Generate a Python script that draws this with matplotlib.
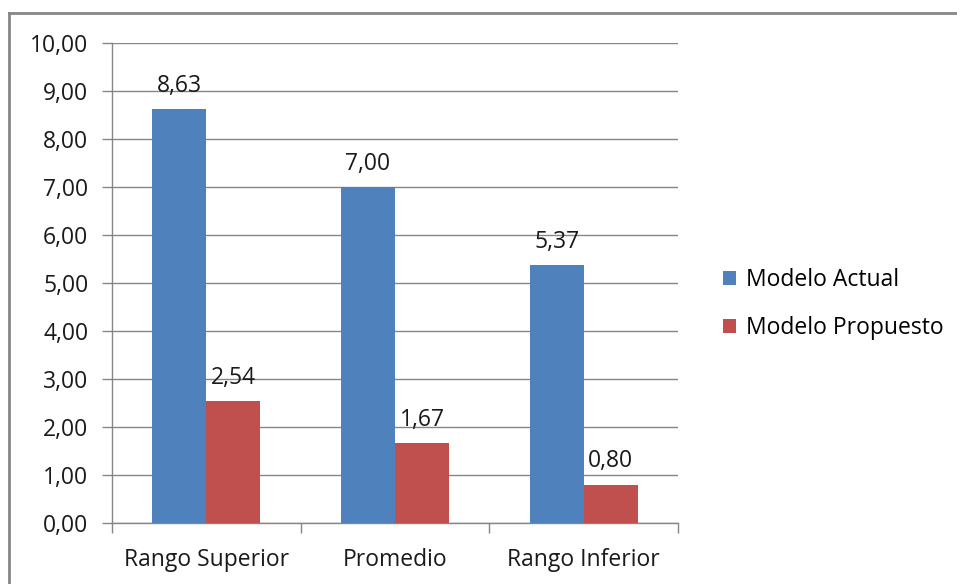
import matplotlib.pyplot as plt
from matplotlib.lines import Line2D
from matplotlib.patches import Patch
import numpy as np

categories = ["Rango Superior", "Promedio", "Rango Inferior"]
modelo_actual = [8.63, 7.00, 5.37]
modelo_propuesto = [2.54, 1.67, 0.80]
series_names = ["Modelo Actual", "Modelo Propuesto"]
yticks = [0, 1, 2, 3, 4, 5, 6, 7, 8, 9, 10]

blue = "#4F81BD"
red = "#C0504D"
grid_c = "#868686"
txt_c = "#1a1a1a"
fs = 16.5

plt.rcParams['font.family'] = ['Open Sans', 'DejaVu Sans']

fig = plt.figure(figsize=(9.57, 5.84), dpi=100)
ax = fig.add_axes([112/957, 1-523/584, (678-112)/957, (523-43)/584])

x = np.arange(len(categories))
w = 0.286
b1 = ax.bar(x - w/2, modelo_actual, w, color=blue, zorder=3)
b2 = ax.bar(x + w/2, modelo_propuesto, w, color=red, zorder=3)

def fmt(v):
    return f"{v:.2f}".replace(".", ",")

for bars, vals in ((b1, modelo_actual), (b2, modelo_propuesto)):
    for r, v in zip(bars, vals):
        ax.annotate(fmt(v), (r.get_x() + r.get_width()/2, v), xytext=(0, 8),
                    textcoords="offset points", ha="center", va="bottom",
                    fontsize=fs, color=txt_c)

ax.set_xlim(-0.5, 2.5)
ax.set_ylim(0, 10)
ax.set_yticks(yticks)
ax.set_yticklabels([fmt(t) for t in yticks], fontsize=fs, color=txt_c)
ax.yaxis.grid(True, color=grid_c, linewidth=1.0, zorder=0)
ax.set_axisbelow(True)

# category labels centered, ticks at group boundaries
ax.set_xticks(x)
ax.set_xticklabels(categories, fontsize=fs, color=txt_c)
ax.tick_params(axis="x", length=0, pad=18)
ax.set_xticks([-0.5, 0.5, 1.5, 2.5], minor=True)
ax.tick_params(axis="x", which="minor", length=7, color=grid_c, width=1.0)
ax.tick_params(axis="y", length=7, color=grid_c, width=1.0, pad=10)

for s in ("top", "right"):
    ax.spines[s].set_visible(False)
for s in ("left", "bottom"):
    ax.spines[s].set_color(grid_c)
    ax.spines[s].set_linewidth(1.0)

handles = [Patch(facecolor=blue), Patch(facecolor=red)]
fig.legend(handles, series_names, loc="center left",
           bbox_to_anchor=(702/957, 1-304/584), frameon=False,
           fontsize=fs, handlelength=0.6, handleheight=0.6,
           handletextpad=0.4, labelspacing=1.05)

# outer chart frame
fig.add_artist(Line2D([9/957, 9/957], [0, 1-13/584], transform=fig.transFigure,
                      color=grid_c, linewidth=2.0))
fig.add_artist(Line2D([9/957, 1], [1-13/584, 1-13/584], transform=fig.transFigure,
                      color=grid_c, linewidth=2.0))

fig.savefig("out.png", dpi=100, facecolor="white")
